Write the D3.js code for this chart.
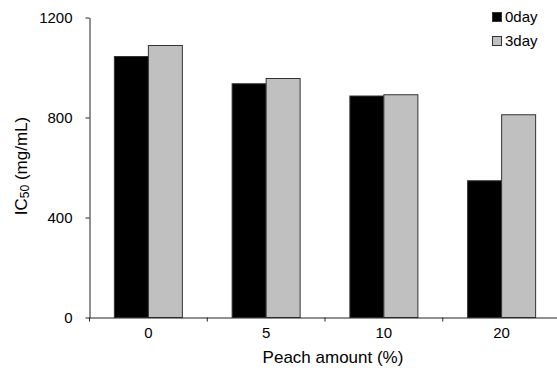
<!DOCTYPE html>
<html><head><meta charset="utf-8">
<script src="https://cdn.jsdelivr.net/npm/d3@7"></script>
<style>body{margin:0;background:#fff}svg{display:block;font-family:"Liberation Sans",Arial,sans-serif}</style>
</head><body>
<svg id="c" width="557" height="371"></svg>
<script>
const categories = ["0", "5", "10", "20"];
const seriesNames = ["0day", "3day"];
const day0 = [1044, 935, 886, 547];
const day3 = [1088, 956, 891, 811];
const yTicks = [0, 400, 800, 1200];
const colors = ["#000000", "#c0c0c0"];

const svg = d3.select("#c");
const x0 = 89.5, x1 = 560.5, yTop = 17.5, yBot = 317.5;
const FS = 15;
const x = d3.scaleBand().domain(categories).range([x0, x1]).paddingInner(0).paddingOuter(0);
const y = d3.scaleLinear().domain([0, 1200]).range([yBot, yTop]);
const barW = 34;
const series = [day0, day3];

const g = svg.append("g");
series.forEach((vals, si) => {
  g.selectAll(".b" + si).data(vals).enter().append("rect")
    .attr("x", (d, i) => x(categories[i]) + x.bandwidth() / 2 - barW + si * barW)
    .attr("y", d => y(d))
    .attr("width", barW)
    .attr("height", d => yBot - y(d))
    .attr("fill", colors[si])
    .attr("stroke", "#333")
    .attr("stroke-width", 1);
});

// y axis
const yAx = svg.append("g").attr("transform", `translate(${x0},0)`)
  .call(d3.axisLeft(y).tickValues(yTicks).tickFormat(d3.format("d")).tickSize(4).tickSizeOuter(0).tickPadding(13));
yAx.select(".domain").attr("stroke", "#222");
yAx.selectAll("line").attr("stroke", "#222");
yAx.selectAll("text").attr("font-size", FS).attr("fill", "#000").attr("font-family", "Liberation Sans, Arial, sans-serif");

// x axis
const xAx = svg.append("g").attr("transform", `translate(0,${yBot})`)
  .call(d3.axisBottom(x).tickSize(0).tickPadding(10));
xAx.select(".domain").attr("stroke", "#222");
xAx.selectAll("text").attr("font-size", FS).attr("fill", "#000").attr("font-family", "Liberation Sans, Arial, sans-serif");
const bounds = categories.map(c => x(c));
xAx.selectAll(".bt").data(bounds).enter().append("line")
  .attr("x1", d => d).attr("x2", d => d).attr("y1", 0).attr("y2", 4).attr("stroke", "#222");

// axis titles
svg.append("text").attr("x", 333).attr("y", 363).attr("text-anchor", "middle")
  .attr("font-size", 17).text("Peach amount (%)");
const yt = svg.append("text").attr("transform", "translate(27,166) rotate(-90)")
  .attr("text-anchor", "middle").attr("font-size", 17);
yt.append("tspan").text("IC");
yt.append("tspan").attr("font-size", 12).attr("dy", 2).text("50");
yt.append("tspan").attr("dy", -2).text(" (mg/mL)");

// legend
const lg = svg.append("g");
seriesNames.forEach((n, i) => {
  lg.append("rect").attr("x", 492.5).attr("y", 12.5 + i * 24).attr("width", 9).attr("height", 9)
    .attr("fill", colors[i]).attr("stroke", "#333");
  lg.append("text").attr("x", 505).attr("y", 22 + i * 24).attr("font-size", FS).text(n);
});
</script>
</body></html>
